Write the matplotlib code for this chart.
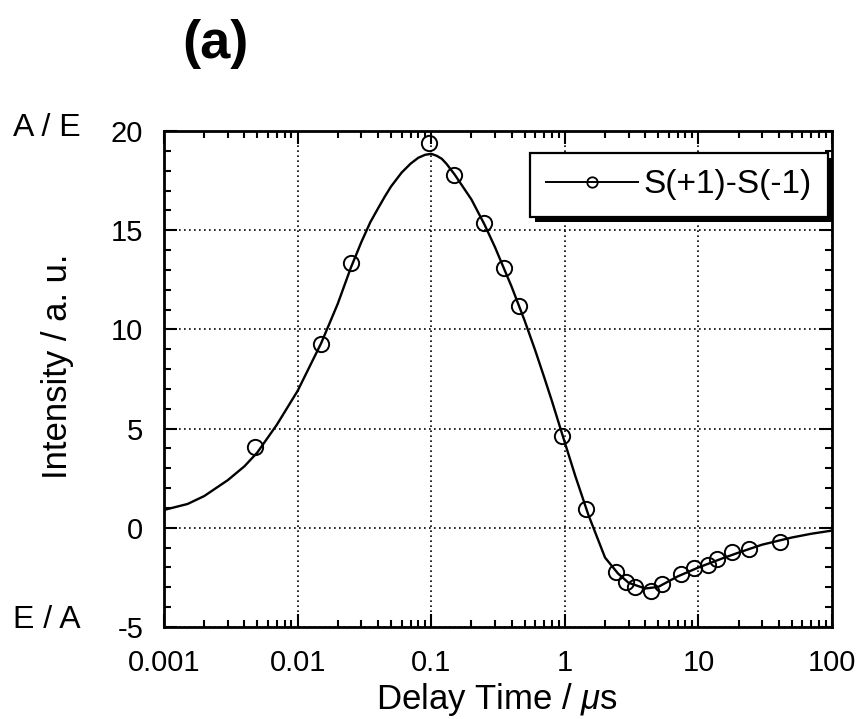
import matplotlib
matplotlib.use('Agg')
import matplotlib.pyplot as plt
from matplotlib.lines import Line2D
from matplotlib.patches import Rectangle
from matplotlib.ticker import MultipleLocator, LogLocator, NullFormatter, FixedLocator, FixedFormatter

plt.rcParams['font.family'] = ['Liberation Sans', 'DejaVu Sans']
plt.rcParams['mathtext.fontset'] = 'custom'
plt.rcParams['mathtext.rm'] = 'Liberation Sans'
plt.rcParams['mathtext.it'] = 'Liberation Sans:italic'
plt.rcParams['axes.unicode_minus'] = False

# measured points S(+1)-S(-1)
pts_x = [0.0048, 0.0149, 0.025, 0.0966, 0.149, 0.25, 0.348, 0.451, 0.95, 1.44,
         2.42, 2.87, 3.36, 4.43, 5.36, 7.45, 9.33, 11.7, 13.7, 17.7, 23.8, 40.6]
pts_y = [4.09, 9.24, 13.33, 19.4, 17.78, 15.35, 13.08, 11.16, 4.65, 0.96,
         -2.22, -2.73, -2.98, -3.18, -2.83, -2.32, -2.02, -1.87, -1.57, -1.21, -1.06, -0.71]

# fitted curve
curve_x = [0.001, 0.0015, 0.002, 0.003, 0.004, 0.005, 0.007, 0.01, 0.015, 0.02, 0.025,
           0.03, 0.035, 0.04, 0.045, 0.05, 0.06, 0.07, 0.08, 0.09, 0.1, 0.11, 0.12, 0.13,
           0.15, 0.2, 0.25, 0.3, 0.4, 0.5, 0.6, 0.7, 0.8, 1.0, 1.2, 1.5, 2.0, 2.5, 3.0,
           4.0, 5.0, 7.0, 10, 15, 20, 30, 50, 70, 100]
curve_y = [0.9, 1.2, 1.6, 2.4, 3.1, 3.8, 5.2, 6.9, 9.3, 11.3, 13.1,
           14.4, 15.4, 16.1, 16.7, 17.2, 17.9, 18.35, 18.65, 18.8, 18.85, 18.75, 18.6, 18.35,
           17.8, 16.55, 15.3, 14.15, 12.15, 10.45, 8.95, 7.6, 6.4, 4.3, 2.6, 0.66, -1.5, -2.3, -2.77,
           -3.06, -2.98, -2.45, -2.0, -1.55, -1.25, -0.85, -0.49, -0.3, -0.14]

x_ticks = [0.001, 0.01, 0.1, 1, 10, 100]
x_labels = ['0.001', '0.01', '0.1', '1', '10', '100']
y_ticks = [-5, 0, 5, 10, 15, 20]

W, H = 861, 719
fs = 21

fig = plt.figure(figsize=(W / 100, H / 100), dpi=100)
ax = fig.add_axes([164 / W, 1 - 627 / H, 668 / W, 496 / H])

ax.plot(curve_x, curve_y, color='black', lw=1.7, zorder=3)
ax.plot(pts_x, pts_y, linestyle='none', marker='o', markersize=11,
        markerfacecolor='none', markeredgecolor='black', markeredgewidth=1.4, zorder=4)

ax.set_xscale('log')
ax.set_xlim(0.001, 100)
ax.set_ylim(-5, 20)

ax.xaxis.set_major_locator(FixedLocator(x_ticks))
ax.xaxis.set_major_formatter(FixedFormatter(x_labels))
ax.xaxis.set_minor_locator(LogLocator(base=10, subs=range(2, 10), numticks=20))
ax.xaxis.set_minor_formatter(NullFormatter())
ax.yaxis.set_major_locator(FixedLocator(y_ticks))
ax.yaxis.set_minor_locator(MultipleLocator(1))

ax.tick_params(which='both', direction='in', top=True, right=True, labelsize=fs, width=1.5)
ax.tick_params(which='major', length=9.5)
ax.tick_params(which='minor', length=5)
ax.tick_params(axis='x', which='major', pad=16)
ax.tick_params(axis='y', which='major', pad=15)
for s in ax.spines.values():
    s.set_linewidth(2)

ax.grid(True, which='major', linestyle=(0, (1, 2)), color='black', lw=1.2)

handle = Line2D([], [], color='black', lw=1.4, marker='o', markersize=7.5,
                markerfacecolor='none', markeredgecolor='black', markeredgewidth=1.3)
leg = ax.legend([handle], ['S(+1)-S(-1)'], loc='upper right', bbox_to_anchor=(0.994, 0.956),
                borderaxespad=0, fontsize=24, frameon=True, fancybox=False,
                handlelength=2.75, handletextpad=0.15, borderpad=0.5,
                edgecolor='black', framealpha=1)
leg.get_frame().set_linewidth(1.6)
leg.set_zorder(6)

# thick black drop shadow under the legend box
fig.canvas.draw()
bb = leg.get_window_extent().transformed(fig.transFigure.inverted())
ax.add_patch(Rectangle((bb.x0 + 5 / W, bb.y0 - 5 / H), bb.width, bb.height,
                       transform=fig.transFigure, facecolor='black', edgecolor='none',
                       clip_on=False, zorder=5.5))

fig.text(13 / W, 1 - 128 / H, 'A / E', fontsize=23, va='center', ha='left')
fig.text(13 / W, 1 - 620 / H, 'E / A', fontsize=23, va='center', ha='left')

fig.text(57 / W, 1 - 366 / H, 'Intensity / a. u.', rotation=90, fontsize=25,
         ha='center', va='center')
fig.text(497 / W, 1 - 700 / H, r'Delay Time / $\mu$s', fontsize=25,
         ha='center', va='center')
fig.text(215 / W, 1 - 44 / H, '(a)', fontsize=39, fontweight='bold',
         ha='center', va='center')

fig.savefig('out.png', dpi=100)
